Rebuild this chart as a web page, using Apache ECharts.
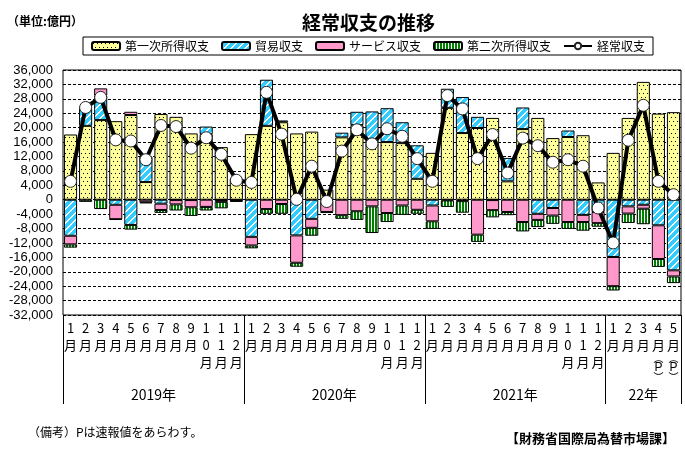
<!DOCTYPE html>
<html><head><meta charset="utf-8">
<script src="https://cdn.jsdelivr.net/npm/echarts@6/dist/echarts.min.js"></script>
<style>html,body{margin:0;padding:0;background:#fff}#c{width:685px;height:460px}</style>
</head><body><div id="c"></div>
<script>
// ---- data (億円) ----
const categories = [
 '2019/1','2019/2','2019/3','2019/4','2019/5','2019/6','2019/7','2019/8','2019/9','2019/10','2019/11','2019/12',
 '2020/1','2020/2','2020/3','2020/4','2020/5','2020/6','2020/7','2020/8','2020/9','2020/10','2020/11','2020/12',
 '2021/1','2021/2','2021/3','2021/4','2021/5','2021/6','2021/7','2021/8','2021/9','2021/10','2021/11','2021/12',
 '2022/1','2022/2','2022/3','2022/4','2022/5'];
const preliminary = ['2022/4','2022/5'];
const yearLabels = ['2019年','2020年','2021年','22年'];
const monthsPerYear = [12,12,12,5];

const primaryIncome = [18100,20500,22100,21800,23500,4900,23800,23000,18400,18200,14600,5800,
 18200,20500,21500,18400,18900,2800,17300,20700,15700,16000,15700,5800,
 13000,25500,18500,19900,22700,5100,19600,22700,17100,17400,17900,4800,
 13000,22700,32700,23900,24300];
const tradeBalance = [-10000,4900,6800,-1400,-7000,7100,-1100,-100,-100,2100,-100,-100,
 -10300,12800,500,-9900,-5300,-200,1300,3700,8800,9400,5800,9300,
 -1600,5300,10000,3100,-100,6500,6000,-3900,-2300,1800,-4200,-3400,
 -15900,-1850,-1400,-7100,-19600];
const servicesBalance = [-2400,400,2000,-4000,900,-700,-1750,-1200,-2000,-2000,-500,-200,
 -2400,-2600,-1200,-7600,-2500,-3200,-4300,-3200,-1850,-3700,-1600,-2800,
 -4400,-200,-400,-9700,-2800,-3400,-6200,-1700,-2100,-6200,-2000,-3100,
 -8100,-2000,-1100,-9350,-1700];
const secondaryIncome = [-900,-600,-2600,-200,-1300,-300,-800,-1700,-2400,-1000,-1800,-300,
 -800,-1300,-2700,-1100,-2200,-300,-1000,-2400,-7400,-2500,-2600,-1100,
 -2100,-1800,-3200,-2000,-2000,-900,-2600,-2000,-2300,-1900,-2400,-1000,
 -1200,-2600,-4300,-2200,-1850];
const currentAccount = [5100,25600,28400,16600,16300,11100,20600,20300,14300,17200,12600,5400,
 4800,29800,18200,100,9300,-500,13500,19400,15500,19700,17600,11400,
 5100,28900,25200,11400,18100,7400,17100,15000,10400,11100,9300,-2300,
 -12000,16500,26200,5100,1400];

// ---- patterns ----
function pattern(w, h, fn) {
  const c = document.createElement('canvas'); c.width = w; c.height = h;
  const ctx = c.getContext('2d'); fn(ctx, w, h);
  return { image: c, repeat: 'repeat' };
}
const yellowPat = pattern(4, 8, (ctx) => {
  ctx.fillStyle = '#FFFF99'; ctx.fillRect(0, 0, 4, 8);
  ctx.fillStyle = '#000'; ctx.fillRect(1, 1, 1, 1); ctx.fillRect(3, 5, 1, 1);
});
const cyanPat = pattern(7, 7, (ctx) => {
  const img = ctx.createImageData(7, 7);
  for (let y = 0; y < 7; y++) for (let x = 0; x < 7; x++) {
    const i = (y * 7 + x) * 4; const white = ((x + y) % 7) < 2;
    img.data[i] = white ? 255 : 0x33; img.data[i+1] = white ? 255 : 0xCC; img.data[i+2] = 255; img.data[i+3] = 255;
  }
  ctx.putImageData(img, 0, 0);
});
const greenPat = pattern(3, 1, (ctx) => {
  ctx.fillStyle = '#008000'; ctx.fillRect(0, 0, 2, 1);
  ctx.fillStyle = '#fff'; ctx.fillRect(2, 0, 1, 1);
});

// ---- year positions on the axis ----
const yearBounds = [0]; monthsPerYear.forEach(n => yearBounds.push(yearBounds[yearBounds.length-1] + n));
const yearCenters = monthsPerYear.map((n, i) => yearBounds[i] + n / 2);

const JP = "'Noto Sans CJK JP', sans-serif";
const NUM = "'Liberation Sans', 'Noto Sans CJK JP', sans-serif";

function monthLabel(v) {
  const m = v.split('/')[1];
  const parts = m.split('').map(d => '{d|' + d + '}');
  parts.push('{d|月}');
  if (preliminary.indexOf(v) >= 0) { parts.push('{a|︵}'); parts.push('{p|P}'); parts.push('{a|︶}'); }
  return parts.join('\n');
}

const barBase = { type: 'bar', stack: 'total', barCategoryGap: '13%', z: 2 };
const border = { borderColor: '#000', borderWidth: 1 };

const chart = echarts.init(document.getElementById('c'), null, { renderer: 'canvas' });
chart.setOption({
  animation: false,
  backgroundColor: '#fff',
  title: [
    { text: '経常収支の推移', left: 297, top: 8, textStyle: { fontFamily: JP, fontSize: 19, fontWeight: 'bold', color: '#000' } },
    { text: '（単位:億円）', left: 2, top: 10, textStyle: { fontFamily: JP, fontSize: 12, fontWeight: 'bold', color: '#000' } }
  ],
  graphic: [
    { type: 'text', left: 28, top: 426, style: { text: '（備考）Pは速報値をあらわす。', font: "12px 'Noto Sans CJK JP'", fill: '#000' } },
    { type: 'text', right: 10, top: 432, style: { text: '【財務省国際局為替市場課】', font: "bold 13px 'Noto Sans CJK JP'", fill: '#000' } }
  ],
  legend: {
    left: 83, top: 37, itemWidth: 28, itemHeight: 8, itemGap: 12, padding: [3, 8],
    borderColor: '#000', borderWidth: 1,
    textStyle: { fontFamily: JP, fontSize: 12, color: '#000' },
    data: ['第一次所得収支', '貿易収支', 'サービス収支', '第二次所得収支', '経常収支']
  },
  grid: { left: 63, right: 4, top: 70, bottom: 145, show: true, borderColor: '#000', borderWidth: 1, backgroundColor: 'transparent' },
  xAxis: [
    {
      type: 'category', data: categories, position: 'bottom',
      axisLine: { show: false, onZero: false }, axisTick: { show: false },
      axisLabel: {
        interval: 0, margin: 5, color: '#000', formatter: monthLabel,
        rich: {
          d: { fontFamily: JP, fontSize: 13, lineHeight: 17, color: '#000' },
          a: { fontFamily: JP, fontSize: 10, lineHeight: 8, color: '#000' },
          p: { fontFamily: NUM, fontSize: 12, lineHeight: 11, color: '#000' }
        }
      },
      splitLine: { show: false }
    },
    {
      type: 'value', min: 0, max: yearBounds[yearBounds.length-1], position: 'bottom',
      axisLine: { show: false, onZero: false },
      splitLine: { show: false },
      axisTick: { show: true, customValues: yearBounds, length: 89, inside: false, lineStyle: { color: '#000', width: 1 } },
      axisLabel: {
        customValues: yearCenters, margin: 73, color: '#000', fontFamily: JP, fontSize: 14,
        formatter: (v) => yearLabels[yearCenters.indexOf(v)] || ''
      }
    }
  ],
  yAxis: {
    type: 'value', min: -32000, max: 36000, interval: 4000,
    axisLine: { show: false }, axisTick: { show: false },
    axisLabel: { formatter: v => v.toLocaleString('en-US'), fontFamily: NUM, fontSize: 13, color: '#000', margin: 10 },
    splitLine: { lineStyle: { type: [3, 2], color: '#000', width: 1 } }
  },
  series: [
    Object.assign({}, barBase, { name: '第一次所得収支', data: primaryIncome, itemStyle: Object.assign({ color: yellowPat }, border) }),
    Object.assign({}, barBase, { name: '貿易収支', data: tradeBalance, itemStyle: Object.assign({ color: cyanPat }, border) }),
    Object.assign({}, barBase, { name: 'サービス収支', data: servicesBalance, itemStyle: Object.assign({ color: '#FF99CC' }, border) }),
    Object.assign({}, barBase, { name: '第二次所得収支', data: secondaryIncome, itemStyle: Object.assign({ color: greenPat }, border) }),
    {
      name: '経常収支', type: 'line', data: currentAccount, z: 5,
      symbol: 'circle', symbolSize: 12,
      lineStyle: { color: '#000', width: 4 },
      itemStyle: { color: '#fff', borderColor: '#222', borderWidth: 1 }
    }
  ]
});
</script>
</body></html>
